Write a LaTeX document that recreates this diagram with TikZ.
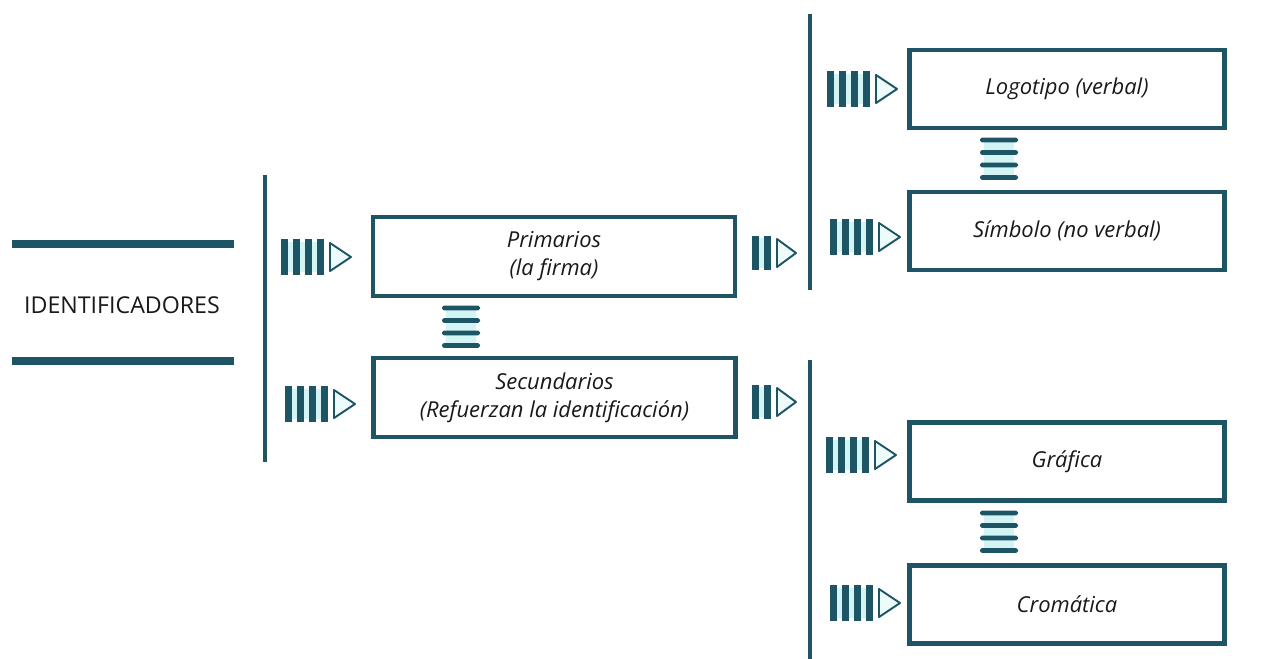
\documentclass[tikz,border=0pt]{standalone}
\usepackage{fontspec}
\setmainfont{Open Sans}
\usetikzlibrary{positioning}
\definecolor{tealdark}{RGB}{29,85,100}
\definecolor{tealpale}{RGB}{210,244,244}
\definecolor{inktext}{RGB}{25,25,25}

\tikzset{
  box/.style={draw=tealdark, line width=2.5pt, minimum width=7.24cm, minimum height=1.58cm,
    inner sep=0pt, align=center, text=inktext, font=\itshape\fontsize{12.5}{16}\selectfont},
  sidebox/.style={box, minimum width=6.3cm, minimum height=1.56cm},
  rule/.style={draw=tealdark, line width=2.8pt},
  thickrule/.style={draw=tealdark, line width=4.2pt},
  pics/barsfour/.style={code={
    \fill[tealpale] (0,-15) rectangle (41,15);
    \foreach \bx in {0,12,24,36}
      \fill[tealdark] (\bx,-18) rectangle ++(6.5,36);
    \draw[tealdark, line width=1.1pt, fill=tealpale!40, line join=round] (49,-14) -- (70,0) -- (49,14) -- cycle;
  }},
  pics/barstwo/.style={code={
    \fill[tealpale] (0,-15) rectangle (17,15);
    \foreach \bx in {0,12}
      \fill[tealdark] (\bx,-17) rectangle ++(6.5,34);
    \draw[tealdark, line width=1.1pt, fill=tealpale!40, line join=round] (25,-14) -- (44,0) -- (25,14) -- cycle;
  }},
  pics/eqbars/.style={code={
    \fill[tealpale] (4,0) rectangle (34,38);
    \foreach \by in {0,12.5,25,37.5}
      \fill[tealdark, rounded corners=1pt] (0,\by-2.4) rectangle ++(38,4.8);
  }}
}

\begin{document}
\begin{tikzpicture}[x=0.02cm, y=-0.02cm]
  \useasboundingbox (0,0) rectangle (1278,659);

  % left title
  \draw[thickrule] (12,244) -- (234,244);
  \draw[thickrule] (12,361) -- (234,361);
  \node[text=inktext, font=\fontsize{13.2}{15}\selectfont] (ident) at (122,305) {IDENTIFICADORES};

  \draw[rule] (265,175) -- (265,462);
  \draw[rule] (810,14) -- (810,290);
  \draw[rule] (810,360) -- (810,659);

  % middle column
  \node[box] (prim) at (554,256.5) {Primarios\\(la firma)};
  \node[box] (secu) at (554.5,397.5) {Secundarios\\(Refuerzan la identificación)};
  \pic at (281,257) {barsfour};
  \pic at (285,404) {barsfour};
  \pic at (442,308) {eqbars};
  \pic at (752,253) {barstwo};
  \pic at (752,402) {barstwo};

  % right column
  \node[sidebox] (logo) at (1067,89) {Logotipo (verbal)};
  \node[sidebox] (simb) at (1067,231) {Símbolo (no verbal)};
  \node[sidebox] (graf) at (1067,461.5) {Gráfica};
  \node[sidebox] (crom) at (1067,604.5) {Cromática};
  \pic at (827,89) {barsfour};
  \pic at (830,237) {barsfour};
  \pic at (826,455) {barsfour};
  \pic at (830,603) {barsfour};
  \pic at (980,140) {eqbars};
  \pic at (980,513) {eqbars};
\end{tikzpicture}
\end{document}
